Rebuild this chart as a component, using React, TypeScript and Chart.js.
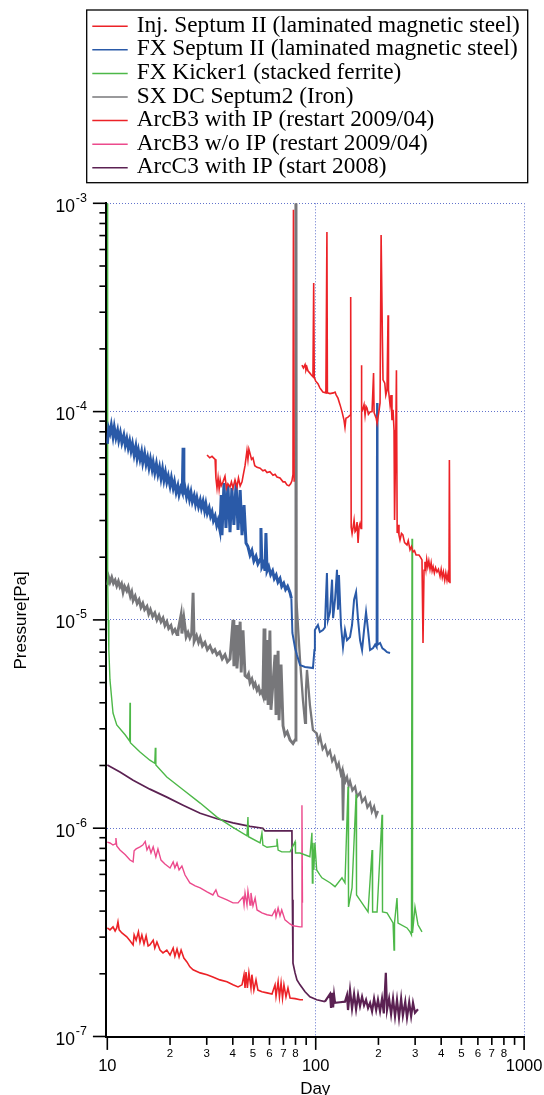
import React, { useEffect, useRef } from "react";
import { Chart, registerables } from "chart.js";

Chart.register(...registerables);

type Pt = [number, number | null];

// ---------- DATA (day, pressure [Pa]) ----------
const injSeptumII: Pt[] = [
  [30.1, 6.19e-5], [31.0, 6.0e-5], [31.8, 6.1e-5], [32.9, 5.9e-5], [33.2, 4.8e-5], [33.6, 4.3e-5], [34.0, 4.8e-5],
  [34.4, 4.25e-5], [34.8, 4.7e-5], [35.2, 4.4e-5], [35.9, 4.6e-5], [36.7, 4.9e-5], [37.3, 4.3e-5], [37.9, 4.5e-5],
  [38.8, 4.35e-5], [39.4, 4.6e-5], [40.1, 4.3e-5], [41.0, 4.7e-5], [41.9, 4.35e-5], [42.6, 4.8e-5], [43.4, 4.4e-5],
  [44.3, 4.6e-5], [44.8, 4.9e-5], [45.8, 5.5e-5], [46.8, 6.5e-5], [47.3, 5.9e-5], [47.8, 6.6e-5], [48.4, 6.3e-5],
  [49.2, 5.9e-5], [50.0, 6.0e-5], [51.0, 5.5e-5], [52.3, 5.4e-5], [54.1, 5.35e-5], [55.8, 5.2e-5], [57.1, 5.25e-5],
  [58.4, 5.1e-5], [60.3, 5.15e-5], [62.4, 4.95e-5], [63.8, 5.0e-5], [65.2, 4.85e-5], [67.4, 4.8e-5], [69.7, 4.6e-5],
  [71.2, 4.6e-5], [72.8, 4.45e-5], [74.4, 4.4e-5], [75.8, 4.5e-5], [76.9, 4.65e-5], [77.8, 5.0e-5], [78.2, 9.3e-4],
  [78.8, 4.6e-5], [79.5, null],
  [85.9, 1.67e-4], [87.3, 1.62e-4], [88.9, 1.68e-4], [89.8, 1.58e-4], [90.8, 1.63e-4], [91.8, 1.57e-4], [93.8, 1.53e-4],
  [95.3, 1.5e-4], [97.0, 1.47e-4], [97.8, 4.14e-4], [98.4, 1.46e-4], [100, 1.4e-4], [102.5, 1.36e-4], [104.7, 1.3e-4],
  [106.5, 1.27e-4], [108.3, 1.24e-4], [111.9, 1.23e-4], [113.2, 7.28e-4], [113.8, 1.23e-4], [117.1, 1.22e-4],
  [121.6, 1.23e-4], [123.8, 1.24e-4], [125.5, 1.2e-4], [127.9, 1.16e-4], [130.8, 1.08e-4], [133.7, 1.0e-4],
  [136.7, 9.1e-5], [138.2, 8.4e-5], [139.7, 9.3e-5], [142.9, 9.4e-5], [146.1, 9.6e-5], [147.2, 3.55e-4], [148.0, 2.79e-5],
  [149.5, 2.6e-5], [151.0, 2.76e-5], [152.8, 3.01e-5], [154.5, 2.65e-5], [156.2, 2.7e-5], [157.9, 2.95e-5],
  [159.7, 2.34e-5], [161.5, 2.8e-5], [163.2, 2.9e-5], [165.0, 2.75e-5], [165.6, 1.67e-4], [166.5, 1.0e-4],
  [168.0, 1.02e-4], [170.6, 1.08e-4], [172.5, 9.6e-5], [174.4, 1.06e-4], [176.3, 1.04e-4], [179, 9.7e-5],
  [182.3, 9.96e-5], [186.4, 1.0e-4], [189.5, 1.53e-4], [190.6, 9.9e-5], [195, 9.3e-5], [197, 8.8e-5], [201, 1.0e-4],
  [203.6, 1.1e-4], [206, 7.04e-4], [209, 2.21e-4], [210.4, 1.42e-4], [214.5, 1.37e-4], [217, 1.2e-4], [219.9, 1.27e-4],
  [222.4, 2.9e-4], [223.5, 1.27e-4], [227.3, 1.08e-4], [229.8, 1.2e-4], [232.3, 9.1e-5], [235, 1.02e-4],
  [237.6, 8.16e-5], [239, 3.02e-5], [242, 6.9e-5], [244, 1.58e-4], [246, 2.61e-5], [248.3, 2.86e-5], [251, 2.55e-5],
  [253.8, 2.42e-5], [258, 2.6e-5], [262, 2.56e-5], [267, 2.35e-5], [274.2, 2.29e-5], [278, 2.4e-5], [283.5, 2.17e-5],
  [288, 2.25e-5], [293.1, 2.12e-5], [298, 2.15e-5], [303, 2.05e-5], [313, 2.05e-5], [318, 2.0e-5], [323.6, 1.94e-5],
  [327.3, 7.74e-6], [330.9, 1.73e-5], [334.5, 1.9e-5], [338, 1.75e-5], [341, 1.95e-5], [345, 1.8e-5], [349, 1.92e-5],
  [353.6, 1.75e-5], [358, 1.88e-5], [362, 1.72e-5], [366, 1.8e-5], [371, 1.68e-5], [376, 1.78e-5], [382, 1.7e-5],
  [388, 1.75e-5], [395, 1.62e-5], [400, 1.75e-5], [405, 1.6e-5], [410, 1.7e-5], [416, 1.55e-5], [421, 1.68e-5],
  [426.6, 1.55e-5], [431, 1.65e-5], [436, 1.52e-5], [438, 5.86e-5], [441, 1.5e-5],
];

const fxSeptumII: Pt[] = [
  [10.0, 7.0e-5], [10.15, 8.3e-5], [10.3, 7.9e-5], [10.45, 8.6e-5], [10.65, 7.6e-5], [10.8, 8.4e-5], [11.0, 7.5e-5],
  [11.2, 8.1e-5], [11.35, 7.3e-5], [11.55, 7.9e-5], [11.75, 7.1e-5], [12.0, 7.7e-5], [12.2, 6.9e-5], [12.4, 7.4e-5],
  [12.6, 6.7e-5], [12.8, 7.2e-5], [13.0, 6.5e-5], [13.2, 7.0e-5], [13.45, 6.2e-5], [13.7, 6.8e-5], [13.9, 6.0e-5],
  [14.1, 6.5e-5], [14.35, 5.9e-5], [14.6, 6.4e-5], [14.8, 5.7e-5], [15.1, 6.3e-5], [15.35, 5.6e-5], [15.6, 6.0e-5],
  [15.85, 5.4e-5], [16.1, 5.9e-5], [16.4, 5.3e-5], [16.6, 5.7e-5], [16.9, 5.1e-5], [17.2, 5.6e-5], [17.5, 5.0e-5],
  [17.8, 5.4e-5], [18.1, 4.8e-5], [18.4, 5.3e-5], [18.7, 4.7e-5], [19.0, 5.1e-5], [19.3, 4.6e-5], [19.6, 4.9e-5],
  [20.0, 4.4e-5], [20.3, 4.8e-5], [20.7, 4.3e-5], [21.0, 4.6e-5], [21.4, 4.1e-5], [21.8, 4.4e-5], [22.1, 4.0e-5],
  [22.5, 4.3e-5], [22.9, 4.1e-5], [23.1, 6.7e-5], [23.3, 4.0e-5], [23.6, 4.3e-5], [24.0, 3.9e-5], [24.4, 4.2e-5],
  [24.8, 3.8e-5], [25.2, 4.1e-5], [25.6, 3.7e-5], [26.1, 3.95e-5], [26.5, 3.6e-5], [26.9, 3.85e-5], [27.4, 3.5e-5],
  [27.9, 3.75e-5], [28.3, 3.45e-5], [28.8, 3.7e-5], [29.3, 3.35e-5], [29.7, 3.6e-5], [30.2, 3.25e-5], [30.8, 3.45e-5],
  [31.3, 3.15e-5], [31.8, 3.3e-5], [32.3, 3.0e-5], [32.9, 3.15e-5], [33.5, 2.85e-5], [34.0, 3.0e-5], [34.7, 2.7e-5],
  [35.2, 3.98e-5], [35.5, 2.55e-5], [36.3, 4.54e-5], [37.1, 2.76e-5], [37.9, 4.45e-5], [38.8, 2.64e-5], [39.6, 4.3e-5],
  [40.5, 2.86e-5], [41.5, 4.54e-5], [42.4, 2.7e-5], [43.4, 4.2e-5], [44.3, 2.55e-5], [45.3, 3.56e-5], [46.3, 2.34e-5],
  [47.3, 2.25e-5], [48.4, 2.05e-5], [49.4, 2.15e-5], [50.5, 1.92e-5], [51.7, 2.02e-5], [52.8, 1.86e-5], [54.1, 1.95e-5],
  [54.6, 2.76e-5], [55.2, 1.8e-5], [56.3, 1.88e-5], [57.1, 1.72e-5], [57.7, 2.61e-5], [58.4, 1.72e-5], [59.5, 1.8e-5],
  [60.8, 1.65e-5], [62.1, 1.72e-5], [63.3, 1.58e-5], [64.6, 1.64e-5], [65.9, 1.52e-5], [67.4, 1.58e-5], [68.7, 1.45e-5],
  [70.2, 1.5e-5], [71.7, 1.4e-5], [73.3, 1.45e-5], [75.3, 1.35e-5], [76.4, 1.27e-5], [77.3, 8.65e-6], [79.6, 7.33e-6],
  [81.3, 6.78e-6], [84.1, 6.07e-6], [88.9, 5.94e-6], [97.0, 5.87e-6], [98.6, 7.17e-6], [99.1, 8.94e-6], [102.5, 9.45e-6],
  [104.7, 8.75e-6], [108.3, 8.94e-6], [110.7, 9.2e-6], [111.9, 1.25e-5], [113.2, 1.68e-5], [114.5, 1.0e-5],
  [117.1, 1.09e-5], [119.8, 1.56e-5], [121.2, 1.02e-5], [123.8, 1.25e-5], [126.5, 1.74e-5], [127.9, 1.12e-5],
  [129.3, 1.64e-5], [132.2, 9.45e-6], [135.2, 7.4e-6], [138.2, 8.94e-6], [141.3, 8.0e-6], [146.1, 8.28e-6],
  [149.4, 9.45e-6], [152.8, 1.25e-5], [156.2, 1.36e-5], [159.7, 1.0e-5], [163.2, 8.0e-6], [166.9, 7.17e-6],
  [170.6, 8.94e-6], [174.4, 1.09e-5], [178.3, 8.94e-6], [182.3, 7.17e-6], [188.5, 7.33e-6], [192.7, 7.6e-6],
  [196, 7.4e-6], [197, 1.1e-4], [198, 7.6e-6], [203.6, 7.75e-6], [209, 7.3e-6], [214.5, 7.17e-6], [220, 7.0e-6],
  [227.3, 6.93e-6],
];

const fxKicker1: Pt[] = [
  [10.04, 1.0e-3], [10.04, 1.58e-5], [10.1, 1.0e-5], [10.17, 7.2e-6], [10.3, 5.15e-6], [10.65, 3.57e-6], [11.1, 3.13e-6],
  [12.2, 2.8e-6], [12.8, 2.62e-6], [12.85, 4.0e-6], [12.9, 2.57e-6], [14.35, 2.32e-6], [16.0, 2.12e-6], [16.9, 2.05e-6],
  [17.0, 2.43e-6], [17.1, 2.01e-6], [19.3, 1.76e-6], [23.1, 1.53e-6], [27.9, 1.32e-6], [33.6, 1.13e-6], [40.1, 1.01e-6],
  [46.8, 9.2e-7], [47.3, 1.13e-6], [47.6, 9.1e-7], [54.1, 8.5e-7], [55.2, 9.5e-7], [55.8, 8.3e-7], [58.4, 8.1e-7],
  [64.5, 8.2e-7], [65.2, 8.9e-7], [66.0, 7.85e-7], [68.7, 7.7e-7], [75.3, 7.7e-7], [79.6, 8.6e-7], [80.0, 7.6e-7],
  [84.1, 7.6e-7], [93.8, 7.3e-7], [95.9, 9.5e-7], [96.4, 5.46e-7], [97.0, 8.5e-7], [98.0, 6.3e-7], [99.1, 8.5e-7],
  [101.1, 6.3e-7], [104.7, 5.97e-7], [107.1, 5.78e-7], [117.1, 5.47e-7], [123.8, 5.24e-7], [133.7, 5.78e-7],
  [138.2, 5.47e-7], [142.9, 1.58e-6], [143.7, 4.19e-7], [149.4, 5.17e-7], [156.2, 1.45e-6], [157.0, 4.78e-7],
  [163.2, 4.52e-7], [178.3, 3.96e-7], [186.4, 7.86e-7], [187.5, 3.96e-7], [197, 3.96e-7], [208.1, 1.16e-6],
  [209.2, 3.96e-7], [219.9, 3.92e-7], [235, 3.51e-7], [237.6, 2.6e-7], [238.9, 3.51e-7], [245.5, 4.62e-7],
  [248.3, 3.5e-7], [274.2, 3.32e-7], [283.5, 3.18e-7], [288, 3.08e-7], [289.8, 2.45e-5], [291.5, 3.14e-7],
  [299.5, 4.19e-7], [309.6, 3.44e-7], [323.6, 3.18e-7],
];

const sxDcSeptum2: Pt[] = [
  [10.0, 1.47e-5], [10.15, 1.6e-5], [10.3, 1.52e-5], [10.5, 1.6e-5], [10.7, 1.5e-5], [10.9, 1.55e-5], [11.1, 1.46e-5],
  [11.3, 1.53e-5], [11.5, 1.44e-5], [11.7, 1.49e-5], [11.9, 1.36e-5], [12.1, 1.45e-5], [12.4, 1.38e-5], [12.6, 1.44e-5],
  [12.9, 1.3e-5], [13.1, 1.36e-5], [13.3, 1.24e-5], [13.6, 1.3e-5], [13.9, 1.2e-5], [14.2, 1.25e-5], [14.5, 1.15e-5],
  [14.8, 1.2e-5], [15.1, 1.12e-5], [15.5, 1.16e-5], [15.8, 1.07e-5], [16.1, 1.12e-5], [16.5, 1.04e-5], [16.9, 1.08e-5],
  [17.3, 1.0e-5], [17.7, 1.05e-5], [18.1, 9.8e-6], [18.5, 1.02e-5], [18.9, 9.4e-6], [19.3, 9.8e-6], [19.7, 9.1e-6],
  [20.2, 9.4e-6], [20.6, 8.7e-6], [21.1, 9.0e-6], [21.6, 8.5e-6], [21.8, 8.75e-6], [22.6, 1.06e-5], [22.8, 8.6e-6],
  [23.3, 1.02e-5], [23.9, 8.3e-6], [24.4, 8.7e-6], [24.9, 8.2e-6], [25.4, 8.6e-6], [25.8, 1.35e-5], [26.1, 7.9e-6],
  [26.8, 8.4e-6], [27.4, 7.8e-6], [27.9, 8.2e-6], [28.6, 7.5e-6], [29.4, 7.8e-6], [30.2, 7.2e-6], [31.1, 7.5e-6],
  [32.0, 7.0e-6], [32.8, 7.2e-6], [33.6, 6.8e-6], [34.6, 7.0e-6], [35.6, 6.5e-6], [36.7, 6.8e-6], [37.7, 6.3e-6],
  [38.8, 6.5e-6], [40.1, 1.0e-5], [40.5, 6.0e-6], [41.5, 9.45e-6], [41.9, 5.85e-6], [43.4, 9.8e-6], [43.9, 5.6e-6],
  [44.8, 8.9e-6], [45.8, 5.4e-6], [46.8, 5.3e-6], [47.6, 5.5e-6], [48.4, 5.0e-6], [49.4, 5.2e-6], [50.4, 4.8e-6],
  [51.2, 4.95e-6], [52.3, 4.6e-6], [53.2, 4.75e-6], [54.1, 4.45e-6], [55.0, 4.55e-6], [55.8, 4.35e-6], [56.5, 9.1e-6],
  [57.1, 4.1e-6], [58.4, 8.0e-6], [59.1, 3.9e-6], [60.3, 8.9e-6], [61.0, 3.7e-6], [62.4, 5.0e-6], [63.8, 6.8e-6],
  [64.5, 3.5e-6], [66.0, 7.1e-6], [66.7, 3.3e-6], [68.2, 6.1e-6], [69.7, 3.1e-6], [71.2, 2.8e-6], [73.0, 2.9e-6],
  [75.3, 2.65e-6], [77.8, 2.55e-6], [79.6, 2.65e-6], [80.4, 1.0e-3], [80.8, 1.25e-5], [84.1, 6.4e-6], [86.9, 4.1e-6],
  [88.9, 3.2e-6], [89.8, 4.6e-6], [90.8, 5.75e-6], [93.8, 3.9e-6], [97.0, 2.96e-6], [101.1, 2.85e-6], [103, 2.6e-6],
  [105, 2.75e-6], [108, 2.4e-6], [111, 2.5e-6], [114, 2.25e-6], [117, 2.35e-6], [120, 2.1e-6], [123, 2.2e-6],
  [126.5, 1.95e-6], [129, 2.05e-6], [132, 1.82e-6], [134, 1.9e-6], [135.2, 1.09e-6], [136.7, 1.8e-6], [139, 1.68e-6],
  [141.3, 1.76e-6], [144, 1.6e-6], [146.1, 1.68e-6], [150, 1.52e-6], [154.5, 1.58e-6], [158, 1.42e-6], [163.2, 1.48e-6],
  [167, 1.34e-6], [172.5, 1.4e-6], [177, 1.26e-6], [182.3, 1.32e-6], [186, 1.2e-6], [190.6, 1.27e-6], [195, 1.15e-6],
  [199, 1.21e-6],
];

const arcB3WithIP: Pt[] = [
  [10.0, 3.32e-7], [10.3, 3.25e-7], [10.65, 3.36e-7], [10.9, 3.21e-7], [11.1, 3.32e-7], [11.25, 3.55e-7], [11.4, 3.25e-7],
  [11.75, 3.14e-7], [12.4, 3.01e-7], [12.85, 2.88e-7], [13.3, 2.75e-7], [13.45, 3.07e-7], [13.75, 2.9e-7], [14.1, 3.18e-7],
  [14.35, 2.84e-7], [14.65, 3.07e-7], [15.0, 2.78e-7], [15.35, 3.04e-7], [15.7, 2.72e-7], [16.0, 2.75e-7], [16.6, 2.9e-7],
  [16.9, 2.66e-7], [17.3, 2.84e-7], [17.9, 2.6e-7], [18.5, 2.52e-7], [19.3, 2.6e-7], [20.0, 2.46e-7], [20.7, 2.66e-7],
  [21.1, 2.43e-7], [21.6, 2.63e-7], [22.1, 2.41e-7], [22.6, 2.6e-7], [23.3, 2.38e-7], [24.1, 2.28e-7], [24.9, 2.16e-7],
  [25.8, 2.09e-7], [27.9, 2.02e-7], [30.1, 1.98e-7], [32.1, 1.93e-7], [34.7, 1.87e-7], [37.5, 1.83e-7], [40.1, 1.77e-7],
  [42.4, 1.73e-7], [44.3, 1.77e-7], [45.3, 1.98e-7], [45.8, 1.71e-7], [46.3, 2.04e-7], [47.0, 1.71e-7], [47.8, 2.02e-7],
  [48.9, 1.71e-7], [49.4, 1.98e-7], [50.5, 1.67e-7], [51.7, 1.87e-7], [52.8, 1.67e-7], [55.2, 1.64e-7], [58.4, 1.62e-7],
  [61.7, 1.6e-7], [63.8, 1.77e-7], [64.5, 1.56e-7], [66.0, 1.83e-7], [67.0, 1.55e-7], [68.2, 1.81e-7], [69.3, 1.53e-7],
  [70.4, 1.77e-7], [72.0, 1.55e-7], [73.6, 1.71e-7], [75.3, 1.53e-7], [79.6, 1.52e-7], [84.1, 1.5e-7], [86.9, 1.5e-7],
];

const arcB3WithoutIP: Pt[] = [
  [10.0, 8.58e-7], [10.3, 8.49e-7], [10.65, 8.3e-7], [10.9, 8.4e-7], [11.0, 8.97e-7], [11.1, 8.22e-7], [11.5, 7.86e-7],
  [12.2, 7.45e-7], [12.85, 7.03e-7], [13.3, 6.89e-7], [13.45, 7.79e-7], [13.75, 7.95e-7], [14.35, 8.13e-7], [14.8, 8.3e-7],
  [15.2, 8.64e-7], [15.5, 7.86e-7], [15.85, 8.22e-7], [16.2, 7.6e-7], [16.6, 8.13e-7], [17.1, 7.27e-7], [17.5, 7.95e-7],
  [18.1, 7.03e-7], [18.9, 6.73e-7], [20.0, 6.44e-7], [20.7, 6.89e-7], [21.1, 6.44e-7], [21.6, 6.81e-7], [22.1, 6.3e-7],
  [22.8, 6.58e-7], [23.6, 5.96e-7], [24.9, 5.46e-7], [26.4, 5.29e-7], [27.9, 5.17e-7], [30.1, 4.95e-7], [32.1, 4.78e-7],
  [33.2, 5.06e-7], [34.0, 4.73e-7], [34.7, 4.68e-7], [37.5, 4.53e-7], [40.1, 4.38e-7], [42.4, 4.38e-7], [44.8, 4.68e-7],
  [45.3, 4.28e-7], [45.8, 4.89e-7], [46.8, 4.28e-7], [47.3, 5.0e-7], [48.4, 4.28e-7], [48.9, 4.89e-7], [50.0, 4.24e-7],
  [51.2, 4.62e-7], [52.3, 4.05e-7], [55.2, 3.92e-7], [58.4, 3.84e-7], [61.7, 3.8e-7], [63.8, 4.05e-7], [64.5, 3.76e-7],
  [66.0, 4.14e-7], [67.4, 3.8e-7], [68.7, 4.05e-7], [71.2, 3.63e-7], [75.3, 3.47e-7], [77.8, 3.4e-7], [84.1, 3.36e-7],
  [85.5, 3.36e-7], [85.9, 1.29e-6], [86.4, 4.38e-7],
];

const arcC3WithIP: Pt[] = [
  [10.0, 2.01e-6], [11.5, 1.86e-6], [13.3, 1.7e-6], [16.0, 1.54e-6], [19.3, 1.41e-6], [23.1, 1.29e-6], [27.9, 1.18e-6],
  [33.6, 1.11e-6], [40.1, 1.06e-6], [48.4, 1.02e-6], [55.8, 1.0e-6], [57.1, 9.7e-7], [67.4, 9.7e-7], [76.9, 9.7e-7],
  [77.3, 4.53e-7], [77.8, 2.25e-7], [79.6, 2.02e-7], [81.3, 1.87e-7], [84.1, 1.77e-7], [88.9, 1.64e-7], [93.8, 1.55e-7],
  [101.1, 1.5e-7], [110.7, 1.47e-7], [117.1, 1.6e-7], [118.5, 1.37e-7], [119.8, 1.62e-7], [121.2, 1.38e-7],
  [122.5, 1.58e-7], [123.8, 1.45e-7], [130.8, 1.46e-7], [138.2, 1.47e-7], [141.3, 1.58e-7], [142.9, 1.34e-7],
  [146.1, 1.67e-7], [149.4, 1.36e-7], [152.8, 1.6e-7], [156.2, 1.35e-7], [159.7, 1.58e-7], [163.2, 1.4e-7],
  [166.9, 1.55e-7], [170.6, 1.41e-7], [174.4, 1.5e-7], [178.3, 1.37e-7], [182.3, 1.45e-7], [186.4, 1.32e-7],
  [190.6, 1.52e-7], [195, 1.34e-7], [199, 1.5e-7], [203.6, 1.32e-7], [208.1, 1.52e-7], [212.2, 1.29e-7],
  [217, 2.02e-7], [219.9, 1.34e-7], [225, 1.52e-7], [230, 1.28e-7], [235, 1.52e-7], [240.2, 1.25e-7], [245.5, 1.5e-7],
  [251, 1.23e-7], [257, 1.52e-7], [262, 1.26e-7], [269, 1.47e-7], [274.2, 1.23e-7], [281, 1.46e-7], [287, 1.25e-7],
  [293, 1.45e-7], [299.5, 1.3e-7], [309.6, 1.35e-7],
];

const seriesLabels = [
  "Inj. Septum II (laminated magnetic steel)",
  "FX Septum II (laminated magnetic steel)",
  "FX Kicker1 (stacked ferrite)",
  "SX DC Septum2 (Iron)",
  "ArcB3 with IP (restart 2009/04)",
  "ArcB3 w/o IP (restart 2009/04)",
  "ArcC3 with IP (start 2008)",
];
const seriesData = [injSeptumII, fxSeptumII, fxKicker1, sxDcSeptum2, arcB3WithIP, arcB3WithoutIP, arcC3WithIP];
const seriesColors = ["#ec2227", "#2a5aa8", "#4db848", "#77777a", "#ec2227", "#ec4a8c", "#5b2152"];
// [width in the noisy early band, width after day limit, day limit]
const seriesWidths = [1.6, 3.0, 1.4, 2.9, 1.6, 1.4, 1.7];
const seriesLateWidths = [1.6, 2.0, 1.4, 2.3, 1.6, 1.4, 2.2];
const seriesWidthBreakDay = [1000, 76, 1000, 80, 1000, 1000, 110];

// ticks
const xMajorTicks = [10, 100, 1000];
const xMinorMultipliers = [2, 3, 4, 5, 6, 7, 8, 9];
const xMinorLabels = ["2", "3", "4", "5", "6", "7", "8", ""];
const yExponents = [-3, -4, -5, -6, -7];
const yMinorMultipliers = [2, 3, 4, 5, 6, 7, 8, 9];

type TickDef = { value: number; major: boolean; label: string };

const xTickDefs: TickDef[] = [];
xMajorTicks.forEach((m, i) => {
  xTickDefs.push({ value: m, major: true, label: String(m) });
  if (i < xMajorTicks.length - 1) {
    xMinorMultipliers.forEach((k, j) => xTickDefs.push({ value: m * k, major: false, label: xMinorLabels[j] }));
  }
});
const yTickDefs: TickDef[] = [];
yExponents.forEach((e) => {
  yTickDefs.push({ value: Math.pow(10, e), major: true, label: String(e) });
  if (e > -7) yMinorMultipliers.forEach((k) => yTickDefs.push({ value: k * Math.pow(10, e - 1), major: false, label: "" }));
});

const SANS = '"Liberation Sans", Arial, Helvetica, sans-serif';
const SERIF = '"Liberation Serif", "Times New Roman", serif';
const GRID = "rgba(70, 90, 195, 0.85)";

const isMajorVal = (v: number) => {
  const l = Math.log10(v);
  return Math.abs(l - Math.round(l)) < 1e-6;
};

const decorPlugin = {
  id: "decor",
  afterDraw(chart: any) {
    const { ctx, chartArea } = chart;
    const xs = chart.scales.x;
    const ys = chart.scales.y;
    const L = chartArea.left;
    const B = chartArea.bottom;
    ctx.save();
    ctx.strokeStyle = "#000";
    ctx.fillStyle = "#000";
    ctx.lineWidth = 1.6;
    // y ticks and labels
    yTickDefs.forEach((t) => {
      const py = ys.getPixelForValue(t.value);
      const len = t.major ? 13.5 : 7;
      ctx.beginPath();
      ctx.moveTo(L - len, py);
      ctx.lineTo(L, py);
      ctx.stroke();
      if (t.major) {
        ctx.font = `17.5px ${SANS}`;
        ctx.textAlign = "right";
        ctx.textBaseline = "alphabetic";
        ctx.fillText("10", L - 31.4, py + 8.5);
        ctx.font = `12.5px ${SANS}`;
        ctx.textAlign = "left";
        ctx.fillText(t.label, L - 30.6, py - 1.5);
      }
    });
    // x ticks and labels
    xTickDefs.forEach((t) => {
      const px = xs.getPixelForValue(t.value);
      const len = t.major ? 12.5 : 7.5;
      ctx.beginPath();
      ctx.moveTo(px, B);
      ctx.lineTo(px, B + len);
      ctx.stroke();
      ctx.textAlign = "center";
      ctx.textBaseline = "alphabetic";
      if (t.major) {
        ctx.font = `16.5px ${SANS}`;
        ctx.fillText(t.label, px, B + 33.6);
      } else if (t.label) {
        ctx.font = `11.5px ${SANS}`;
        ctx.fillText(t.label, px, B + 19.6);
      }
    });
    // axis titles
    ctx.font = `17px ${SANS}`;
    ctx.textAlign = "center";
    ctx.textBaseline = "alphabetic";
    ctx.fillText("Day", (chartArea.left + chartArea.right) / 2, 1094);
    ctx.save();
    ctx.translate(26, (chartArea.top + chartArea.bottom) / 2);
    ctx.rotate(-Math.PI / 2);
    ctx.fillText("Pressure[Pa]", 0, 0);
    ctx.restore();

    // legend
    const boxL = 86.7, boxT = 10, boxR = 527.7, boxB = 182.7;
    ctx.fillStyle = "#fff";
    ctx.fillRect(boxL, boxT, boxR - boxL, boxB - boxT);
    ctx.strokeStyle = "#000";
    ctx.lineWidth = 1.3;
    ctx.strokeRect(boxL, boxT, boxR - boxL, boxB - boxT);
    chart.data.datasets.forEach((ds: any, i: number) => {
      const base = 31.7 + 23.6 * i;
      ctx.strokeStyle = ds.borderColor;
      ctx.lineWidth = 1.5;
      ctx.beginPath();
      ctx.moveTo(92.3, base - 5.5);
      ctx.lineTo(127.7, base - 5.5);
      ctx.stroke();
      ctx.fillStyle = "#000";
      ctx.font = `23.3px ${SERIF}`;
      ctx.textAlign = "left";
      ctx.textBaseline = "alphabetic";
      ctx.fillText(ds.label, 136.7, base);
    });
    ctx.restore();
  },
};

export default function App() {
  const ref = useRef<HTMLCanvasElement | null>(null);
  useEffect(() => {
    if (!ref.current) return;
    const datasets = seriesData.map((s, i) => ({
      label: seriesLabels[i],
      data: s.map(([x, y]) => ({ x, y })),
      borderColor: seriesColors[i],
      backgroundColor: seriesColors[i],
      borderWidth: seriesWidths[i],
      segment: {
        borderWidth: (c: any) =>
          c.p0.parsed.x < seriesWidthBreakDay[i] ? seriesWidths[i] : seriesLateWidths[i],
      },
      pointRadius: 0,
      tension: 0,
      spanGaps: false,
      fill: false,
    }));
    const chart = new Chart(ref.current, {
      type: "line",
      data: { datasets },
      options: {
        responsive: false,
        animation: false,
        events: [],
        layout: { padding: { left: 0, right: 19.9, top: 203.3, bottom: 0 } },
        plugins: { legend: { display: false }, tooltip: { enabled: false }, title: { display: false } },
        scales: {
          x: {
            type: "logarithmic",
            position: "bottom",
            min: 9.9,
            max: 1000,
            afterBuildTicks: (s: any) => {
              s.ticks = xTickDefs.map((t) => ({ value: t.value }));
            },
            afterFit: (s: any) => {
              s.height = 57.6;
              s.paddingLeft = 0;
              s.paddingRight = 0;
            },
            ticks: { display: false },
            grid: {
              drawTicks: false,
              lineWidth: 1,
              color: (c: any) =>
                c.tick && isMajorVal(c.tick.value) && c.tick.value > 10.5 ? GRID : "rgba(0,0,0,0)",
            },
            border: { display: true, color: "#000", width: 2, dash: [1, 2] },
          },
          y: {
            type: "logarithmic",
            position: "left",
            min: 0.99e-7,
            max: 1e-3,
            afterBuildTicks: (s: any) => {
              s.ticks = yTickDefs.map((t) => ({ value: t.value }));
            },
            afterFit: (s: any) => {
              s.width = 106.4;
              s.paddingTop = 0;
              s.paddingBottom = 0;
            },
            ticks: { display: false },
            grid: {
              drawTicks: false,
              lineWidth: 1,
              color: (c: any) =>
                c.tick && isMajorVal(c.tick.value) && c.tick.value > 1.5e-7 ? GRID : "rgba(0,0,0,0)",
            },
            border: { display: true, color: "#000", width: 2, dash: [1, 2] },
          },
        },
      },
      plugins: [decorPlugin],
    } as any);
    return () => chart.destroy();
  }, []);
  return (
    <div style={{ position: "fixed", left: 0, top: 0, width: 544, height: 1095, background: "#fff" }}>
      <canvas ref={ref} width={544} height={1095} style={{ display: "block" }} />
    </div>
  );
}
